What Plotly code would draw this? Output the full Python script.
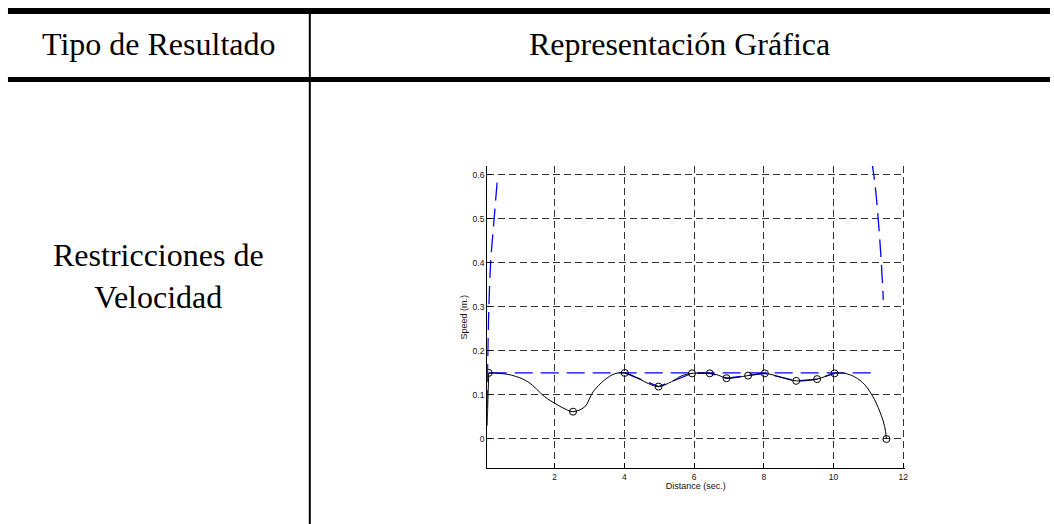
import plotly.graph_objects as go

W, H = 1054, 524

# ---- data ----
start_x = [0.06, 0.105]
start_y = [0.03, 0.150]

curve_x = [0.105, 0.4, 0.755, 1.23, 1.71, 2.0, 2.3, 2.525, 2.86, 3.1, 3.43, 3.72, 4.01,
           4.39, 4.68, 4.98, 5.35, 5.63, 5.94, 6.45, 6.69, 6.93, 7.55, 8.03, 8.5, 8.93, 9.53,
           10.03, 10.32, 10.61, 10.9, 11.18, 11.37, 11.47, 11.52]
curve_y = [0.150, 0.149, 0.145, 0.130, 0.096, 0.081, 0.068, 0.062, 0.073, 0.107, 0.134,
           0.148, 0.150, 0.138, 0.126, 0.119, 0.130, 0.143, 0.149, 0.149, 0.145, 0.138, 0.144,
           0.149, 0.140, 0.132, 0.136, 0.149, 0.149, 0.141, 0.123, 0.089, 0.054, 0.028, 0.0]

way_x = [0.105, 2.525, 4.01, 4.98, 5.94, 6.45, 6.93, 7.55, 8.03, 8.93, 9.53, 10.03, 11.52]
way_y = [0.150, 0.062, 0.150, 0.119, 0.149, 0.149, 0.138, 0.144, 0.149, 0.132, 0.136, 0.149, 0.0]

limit_x = [0.105, 11.28]
limit_y = [0.15, 0.15]

ref_x = [4.01, 4.98, 5.94, 6.45, 6.93, 7.55, 8.03, 8.93, 9.53, 10.03]
ref_y = [0.150, 0.119, 0.149, 0.149, 0.138, 0.144, 0.149, 0.132, 0.136, 0.149]

acc_up_x = [0.057, 0.10, 0.16, 0.25, 0.354]
acc_up_y = [0.07, 0.27, 0.40, 0.49, 0.59]

acc_dn_x = [11.10, 11.20, 11.35, 11.43]
acc_dn_y = [0.63, 0.573, 0.429, 0.316]

x_ticks = [2, 4, 6, 8, 10, 12]
y_ticks = [0, 0.1, 0.2, 0.3, 0.4, 0.5, 0.6]
y_tick_labels = ["0", "0.1", "0.2", "0.3", "0.4", "0.5", "0.6"]

header_left = "Tipo de Resultado"
header_right = "Representación Gráfica"
row_label = "Restricciones de<br>Velocidad"
x_title = "Distance (sec.)"
y_title = "Speed (m.)"

# ---- figure ----
fig = go.Figure()
blue_line = dict(color="#0000ff", width=1.3, dash="18px,8px")

fig.add_trace(go.Scatter(x=limit_x, y=limit_y, mode="lines", line=blue_line, hoverinfo="skip"))
fig.add_trace(go.Scatter(x=ref_x, y=ref_y, mode="lines", line=blue_line, hoverinfo="skip"))
fig.add_trace(go.Scatter(x=acc_up_x, y=acc_up_y, mode="lines", line=dict(blue_line, shape="spline"), hoverinfo="skip"))
fig.add_trace(go.Scatter(x=acc_dn_x, y=acc_dn_y, mode="lines", line=dict(blue_line, shape="spline"), hoverinfo="skip"))
fig.add_trace(go.Scatter(x=start_x, y=start_y, mode="lines", line=dict(color="black", width=1)))
fig.add_trace(go.Scatter(x=curve_x, y=curve_y, mode="lines",
                         line=dict(color="black", width=1, shape="spline", smoothing=1.0)))
fig.add_trace(go.Scatter(x=way_x, y=way_y, mode="markers",
                         marker=dict(symbol="circle-open", size=7, color="black", line=dict(width=1))))

def px(x):
    return x / W

def py(y):
    return 1 - y / H

shapes = [
    dict(type="rect", xref="paper", yref="paper", x0=px(8), x1=px(W), y0=py(8), y1=py(14),
         fillcolor="black", line=dict(width=0)),
    dict(type="rect", xref="paper", yref="paper", x0=px(8), x1=px(W), y0=py(77), y1=py(82),
         fillcolor="black", line=dict(width=0)),
    dict(type="rect", xref="paper", yref="paper", x0=px(310), x1=px(312), y0=py(14), y1=py(H),
         fillcolor="black", line=dict(width=0)),
]

serif = dict(family="Liberation Serif, Times New Roman, serif", size=32, color="black")
annotations = [
    dict(text=header_left, x=px(159.5), y=py(44), xref="paper", yref="paper",
         showarrow=False, xanchor="center", yanchor="middle", font=serif),
    dict(text=header_right, x=px(682), y=py(44), xref="paper", yref="paper",
         showarrow=False, xanchor="center", yanchor="middle", font=serif),
    dict(text=row_label, x=px(159), y=py(276), xref="paper", yref="paper",
         showarrow=False, xanchor="center", yanchor="middle", font=serif, align="center"),
]

sans = dict(family="Liberation Sans, Arial, Helvetica, sans-serif", size=8.5, color="#111111")

fig.update_layout(
    width=W, height=H,
    margin=dict(l=0, r=0, t=0, b=0),
    paper_bgcolor="white", plot_bgcolor="white",
    showlegend=False,
    shapes=shapes,
    annotations=annotations,
    xaxis=dict(
        domain=[489 / W, 908 / W], range=[0.06, 12.04],
        tickmode="array", tickvals=x_ticks, ticktext=[str(v) for v in x_ticks],
        ticks="inside", ticklen=5, tickcolor="black", tickwidth=1,
        showline=True, linecolor="black", linewidth=1,
        showgrid=True, gridcolor="#333333", gridwidth=1, griddash="7px,4px",
        zeroline=False, tickfont=sans,
        title=dict(text=x_title, font=dict(sans, size=9), standoff=2),
    ),
    yaxis=dict(
        domain=[1 - 468.3 / H, 1 - 166 / H], range=[-0.0666, 0.62],
        tickmode="array", tickvals=y_ticks, ticktext=y_tick_labels,
        ticks="inside", ticklen=5, tickcolor="black", tickwidth=1,
        showline=True, linecolor="black", linewidth=1,
        showgrid=True, gridcolor="#333333", gridwidth=1, griddash="7px,4px",
        zeroline=False, tickfont=sans,
        title=dict(text=y_title, font=dict(sans, size=9), standoff=3),
    ),
)

fig.write_html("out.html", config={"displayModeBar": False},
               post_script="document.body.style.margin='0';")
